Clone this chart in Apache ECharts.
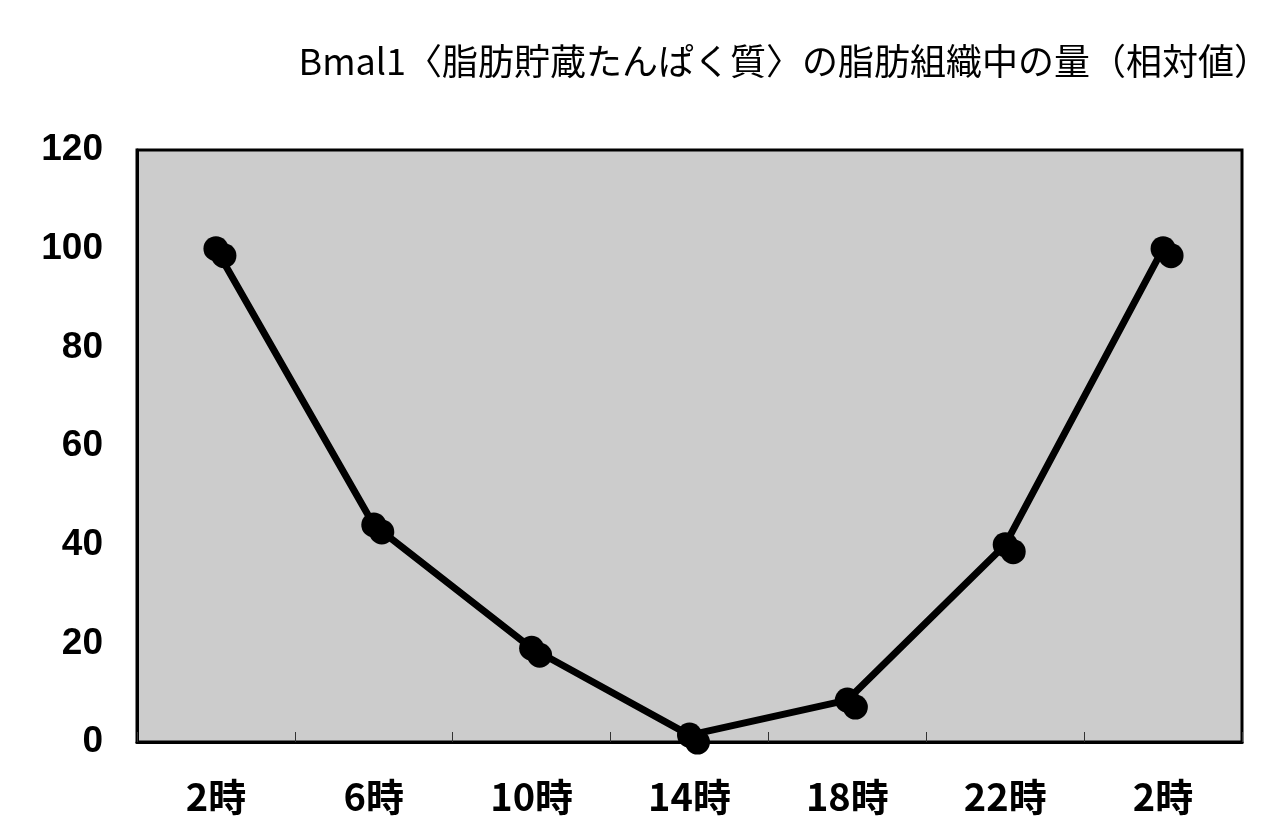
<!DOCTYPE html>
<html><head><meta charset="utf-8">
<script src="https://cdn.jsdelivr.net/npm/echarts@6/dist/echarts.min.js"></script>
<style>html,body{margin:0;padding:0;background:#fff}#c{width:1279px;height:839px}</style>
</head><body><div id="c"></div>
<script>
const categories = ['2時','6時','10時','14時','18時','22時','2時'];
const values = [100, 44, 19, 1.4, 8.5, 40, 100];
const titleText = 'Bmal1〈脂肪貯蔵たんぱく質〉の脂肪組織中の量（相対値）';

const chart = echarts.init(document.getElementById('c'));
chart.setOption({
  animation: false,
  title: {
    text: titleText, right: 4, top: 38,
    textStyle: {fontFamily: '"Noto Sans CJK JP"', fontWeight: 'normal', fontSize: 36, color: '#000'}
  },
  grid: {left: 137, top: 150, right: 37, bottom: 97, show: true, backgroundColor: '#cccccc', borderColor: '#000', borderWidth: 3},
  xAxis: {
    type: 'category', data: categories, boundaryGap: true,
    axisLine: {lineStyle: {color: '#000', width: 3}},
    axisTick: {show: true, inside: true, length: 10, lineStyle: {color: '#333', width: 1}},
    axisLabel: {fontFamily: '"Noto Sans CJK JP"', fontWeight: 'bold', fontSize: 38, color: '#000', margin: 36}
  },
  yAxis: {
    type: 'value', min: 0, max: 120, interval: 20,
    splitLine: {show: false},
    axisLine: {show: true, lineStyle: {color: '#000', width: 3}},
    axisTick: {show: false},
    axisLabel: {fontFamily: 'Liberation Sans', fontWeight: 'bold', fontSize: 37, color: '#000', margin: 34}
  },
  series: [{
    type: 'line', data: values,
    lineStyle: {color: '#000', width: 7},
    symbol: 'circle', symbolSize: 25,
    itemStyle: {color: '#000', shadowColor: '#000', shadowBlur: 0, shadowOffsetX: 8, shadowOffsetY: 7},
    z: 3
  }]
});
</script></body></html>
